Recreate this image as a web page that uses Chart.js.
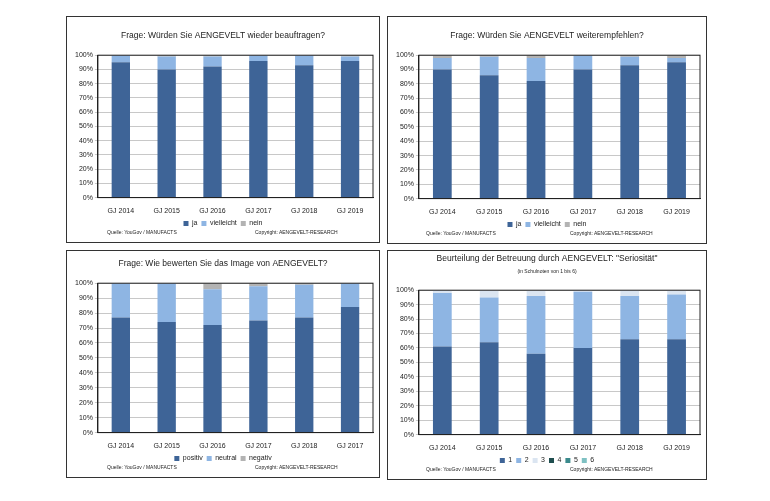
<!DOCTYPE html>
<html><head><meta charset="utf-8">
<script src="https://cdn.jsdelivr.net/npm/chart.js@4/dist/chart.umd.min.js"></script>
<style>
body{margin:0;background:#fff;width:770px;height:501px;position:relative;font-family:"Liberation Sans",Arial,sans-serif;}
.p{position:absolute;border:1px solid #333;box-sizing:border-box;background:#fff}
.p canvas{position:absolute;left:0;top:0}
.f{position:absolute;font-size:5px;color:#222;bottom:7px}
</style></head><body>
<div class="p" id="d1" style="left:66px;top:16px;width:314px;height:227px"><canvas id="c1"></canvas><span class="f" style="left:40px">Quelle: YouGov / MANUFACTS</span><span class="f" style="left:188px">Copyright: AENGEVELT-RESEARCH</span></div>
<div class="p" id="d2" style="left:387px;top:16px;width:320px;height:228px"><canvas id="c2"></canvas><span class="f" style="left:38px">Quelle: YouGov / MANUFACTS</span><span class="f" style="left:182px">Copyright: AENGEVELT-RESEARCH</span></div>
<div class="p" id="d3" style="left:66px;top:250px;width:314px;height:228px"><canvas id="c3"></canvas><span class="f" style="left:40px">Quelle: YouGov / MANUFACTS</span><span class="f" style="left:188px">Copyright: AENGEVELT-RESEARCH</span></div>
<div class="p" id="d4" style="left:387px;top:250px;width:320px;height:230px"><canvas id="c4"></canvas><span class="f" style="left:38px">Quelle: YouGov / MANUFACTS</span><span class="f" style="left:182px">Copyright: AENGEVELT-RESEARCH</span></div>
<script>
const years = ["GJ 2014","GJ 2015","GJ 2016","GJ 2017","GJ 2018","GJ 2019"];
const years3 = ["GJ 2014","GJ 2015","GJ 2016","GJ 2017","GJ 2018","GJ 2017"];
const yTicks = [0,10,20,30,40,50,60,70,80,90,100];

const p1Ja = [95,90,92,96,93,96];
const p1Vielleicht = [5,9,7,4,7,3];
const p1Nein = [0,1,1,0,0,1];

const p2Ja = [90,86,82,90,93,95];
const p2Vielleicht = [8,13,16,10,6,3];
const p2Nein = [2,1,2,0,1,2];

const p3Positiv = [77,74,72,75,77,84];
const p3Neutral = [23,26,24,23,22,16];
const p3Negativ = [0,0,4,2,1,0];

const p4N1 = [61,64,56,60,66,66];
const p4N2 = [37,31,40,39,30,31];
const p4N3 = [2,5,4,1,4,3];
const p4N4 = [0,0,0,0,0,0];
const p4N5 = [0,0,0,0,0,0];
const p4N6 = [0,0,0,0,0,0];

const DARK="#3e6497", LIGHT="#8eb5e3", GREY="#b3b3b3", PALE="#dbe5f1";
const F="'Liberation Sans', Arial, sans-serif";

const boxPlugin={id:'box',afterDraw(c){const a=c.chartArea,x=c.ctx;x.save();x.strokeStyle='#222';x.lineWidth=1;x.strokeRect(a.left,a.top,a.right-a.left,a.bottom-a.top);x.restore();}};

function make(id,labels,sets,title,tp,sub){
  const d=document.getElementById(id.replace('c','d'));
  const cv=document.getElementById(id);
  cv.style.width=(d.clientWidth)+'px';cv.style.height=(d.clientHeight)+'px';
  new Chart(cv,{type:'bar',
    data:{labels,datasets:sets.map(s=>({label:s[0],data:s[1],backgroundColor:s[2],barPercentage:0.4,categoryPercentage:1,borderWidth:0}))},
    options:{responsive:false,maintainAspectRatio:false,animation:false,
      layout:{padding:{left:6,right:6,top:0,bottom:5}},
      plugins:{
        title:{display:true,text:title,color:'#222',font:{family:F,size:8.5,weight:'normal'},padding:tp},
        subtitle:{display:!!sub,text:sub||'',color:'#222',font:{family:F,size:5},padding:{bottom:16}},
        legend:{position:'bottom',labels:{boxWidth:5,boxHeight:5,padding:4,color:'#222',font:{family:F,size:7}}},
        tooltip:{enabled:false}},
      scales:{
        x:{stacked:true,grid:{display:false},border:{color:'#222'},ticks:{color:'#222',font:{family:F,size:7},padding:1}},
        y:{stacked:true,min:0,max:100,afterBuildTicks:ax=>{ax.ticks=yTicks.map(v=>({value:v}))},
           grid:{color:'#c8c8c8',drawTicks:true,tickLength:3},border:{color:'#222'},
           ticks:{color:'#222',font:{family:F,size:7},padding:2,callback:v=>v+'%'}}}},
    plugins:[boxPlugin]});
}
make('c1',years,[["ja",p1Ja,DARK],["vielleicht",p1Vielleicht,LIGHT],["nein",p1Nein,GREY]],"Frage: Würden Sie AENGEVELT wieder beauftragen?",{top:14,bottom:14});
make('c2',years,[["ja",p2Ja,DARK],["vielleicht",p2Vielleicht,LIGHT],["nein",p2Nein,GREY]],"Frage: Würden Sie AENGEVELT weiterempfehlen?",{top:14,bottom:14});
make('c3',years3,[["positiv",p3Positiv,DARK],["neutral",p3Neutral,LIGHT],["negativ",p3Negativ,GREY]],"Frage: Wie bewerten Sie das Image von AENGEVELT?",{top:8,bottom:14});
make('c4',years,[["1",p4N1,DARK],["2",p4N2,LIGHT],["3",p4N3,PALE],["4",p4N4,"#1f4e4f"],["5",p4N5,"#3a8a8c"],["6",p4N6,"#7fc1c3"]],"Beurteilung der Betreuung durch AENGEVELT: \"Seriosität\"",{top:3,bottom:4},"(in Schulnoten von 1 bis 6)");
</script></body></html>
